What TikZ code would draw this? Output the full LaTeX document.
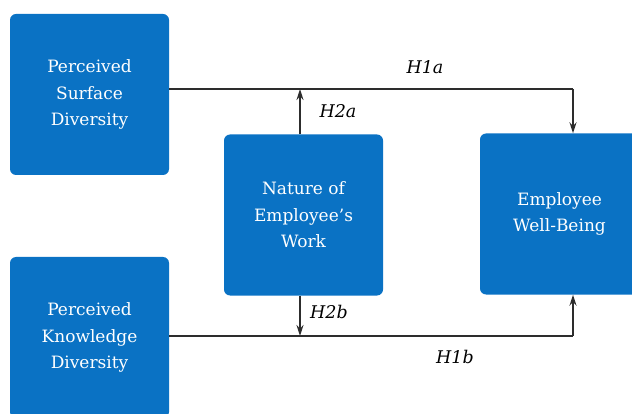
\documentclass[tikz,border=0pt]{standalone}
\usepackage{fontspec}
\setmainfont{DejaVu Serif}
\usetikzlibrary{arrows.meta,calc}
\definecolor{boxblue}{RGB}{10,114,196}
\definecolor{linegray}{RGB}{45,45,45}
\begin{document}
\begin{tikzpicture}[x=1pt,y=-1pt,
  block/.style={fill=boxblue, draw=none, rounded corners=6pt,
    minimum width=159pt, minimum height=161pt, inner sep=0pt,
    text=white, align=center,
    font=\fontsize{17}{26.5}\selectfont},
  link/.style={draw=linegray, line width=1.6pt},
  arr/.style={link, -{Stealth[length=11pt,width=7pt]}},
  hyp/.style={font=\fontsize{17.5}{21}\selectfont\itshape, inner sep=1pt}]
  \useasboundingbox (0,0) rectangle (632,414);

  % boxes
  \node[block] (S) at (89.5,94.5) {Perceived\\Surface\\Diversity};
  \node[block] (K) at (89.5,337.5) {Perceived\\Knowledge\\Diversity};
  \node[block] (N) at (303.5,215) {Nature of\\Employee’s\\Work};
  \node[block] (W) at (559.5,214) {Employee\\Well-Being};

  % routing points
  \coordinate (t1) at (573,89);
  \coordinate (b1) at (573,336);
  \coordinate (m) at (300,0);

  % direct paths
  \draw[link] (S.east |- t1) -- (t1);
  \draw[arr] (t1) -- (t1 |- W.north);
  \draw[link] (K.east |- b1) -- (b1);
  \draw[arr] (b1) -- (b1 |- W.south);

  % moderator paths
  \draw[arr] (m |- N.north) -- (m |- t1);
  \draw[arr] (m |- N.south) -- (m |- b1);

  % labels
  \node[hyp] (l1a) at (425,67) {H1a};
  \node[hyp] (l2a) at (338,111) {H2a};
  \node[hyp] (l2b) at (329,312) {H2b};
  \node[hyp] (l1b) at (455,357) {H1b};
\end{tikzpicture}
\end{document}
